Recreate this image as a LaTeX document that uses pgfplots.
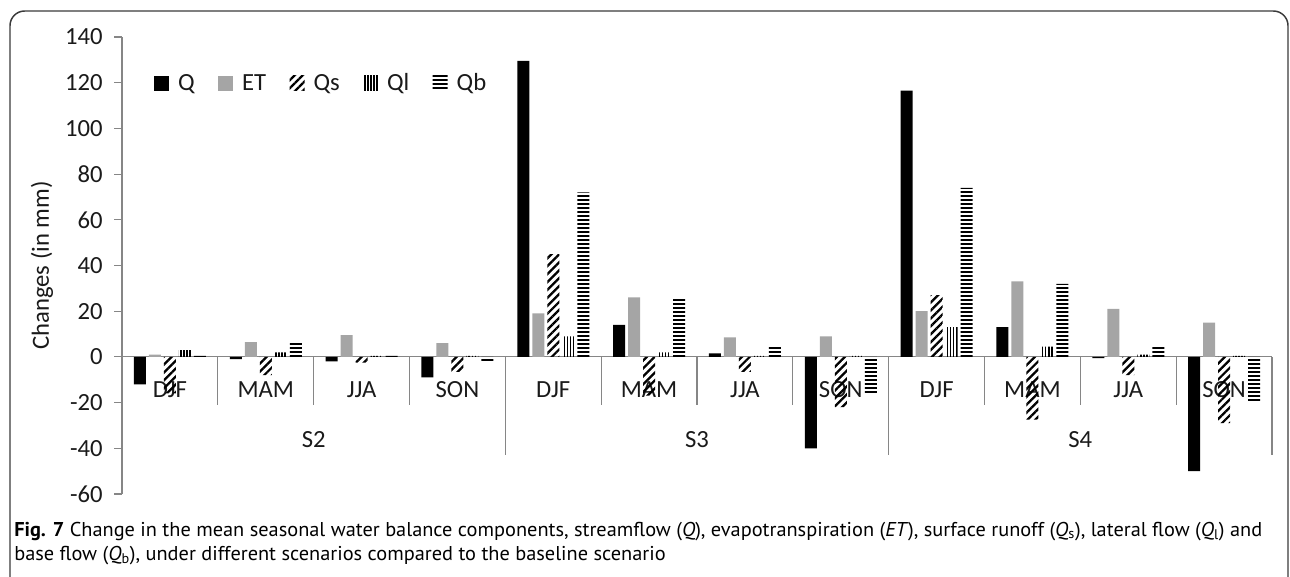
\documentclass[border=0pt]{standalone}
\usepackage{fontspec}
\setmainfont{Carlito}
\newfontfamily\capfont{PT Sans}
\usepackage{graphicx}
\usepackage{pgfplots}
\pgfplotsset{compat=1.18}
\usetikzlibrary{patterns.meta}
\definecolor{axgray}{HTML}{868686}
\definecolor{bargray}{HTML}{A5A5A5}
\definecolor{txt}{HTML}{1A1A1A}
\definecolor{framec}{HTML}{3A3A3A}
\definecolor{capc}{HTML}{2B2B2B}
\newcommand{\lbl}{\fontsize{18.5pt}{22pt}\selectfont}
\newsavebox\capA
\newsavebox\capB
\newdimen\capw

\pgfplotstableread{
x   Q      ET    Qs     Ql    Qb
0   -12    1     -16    3     0.5
1   -1     6.5   -8     2     6
2   -2     9.5   -2.5   0.5   0.4
3   -9     6     -6.5   0.5   -2.5
4   129.5  19    45     9     72
5   14     26    -17    2     26
6   1.5    8.5   -6.5   0.5   4.5
7   -40    9     -22    0.4   -16.5
8   116.5  20    27     13    74
9   13     33    -27.5  4.5   32
10  -0.5   21    -8     1     4.5
11  -50    15    -29    0.5   -19.5
}\datatab

\begin{document}
\sbox\capA{\capfont\fontsize{15pt}{18pt}\selectfont\textbf{Fig. 7} Change in the mean seasonal water balance components, streamflow (\textit{Q}), evapotranspiration (\textit{ET}), surface runoff (\textit{Q}\textsubscript{s}), lateral flow (\textit{Q}\textsubscript{l}) and}%
\sbox\capB{\capfont\fontsize{15pt}{18pt}\selectfont base flow (\textit{Q}\textsubscript{b}), under different scenarios compared to the baseline scenario}%
\capw=\wd\capA
\pgfmathsetmacro\capf{936/\the\capw}%
\begin{tikzpicture}
\useasboundingbox (0,0) rectangle (967.5pt,432pt);
\draw[framec, line width=1.1pt, rounded corners=11pt] (7.5pt,-12pt) rectangle (966pt,423.75pt);
\node[anchor=base west, inner sep=0pt, text=capc] at (10.5pt,30pt) {\scalebox{\capf}[1]{\usebox\capA}};
\node[anchor=base west, inner sep=0pt, text=capc] at (10.5pt,12pt) {\scalebox{\capf}[1]{\usebox\capB}};
\begin{axis}[
  at={(91.5pt,61.5pt)}, anchor=south west,
  scale only axis, width=862.5pt, height=342.75pt,
  xmin=-0.5, xmax=11.5, ymin=-60, ymax=140,
  axis y line*=left, axis x line*=middle,
  xtick=\empty,
  ytick={-60,-40,-20,0,20,40,60,80,100,120,140},
  yticklabels={-60,-40,-20,0,20,40,60,80,100,120,140},
  yticklabel style={font=\lbl, text=txt, xshift=-5pt},
  tick align=outside, major tick length=6pt,
  tick style={axgray, line width=0.8pt},
  axis line style={axgray, line width=0.8pt},
  ylabel={Changes (in mm)},
  ylabel style={at={(axis description cs:-0.0696,0.5)}, anchor=center, font=\lbl, text=txt},
  ybar=2.25pt, bar width=9pt,
  legend columns=5,
  legend style={draw=none, fill=none, at={(axis description cs:0.0278,0.899)}, anchor=west,
    font=\lbl, text=txt, inner sep=0pt, nodes={inner xsep=0pt},
    /tikz/every odd column/.append style={column sep=6.75pt},
    /tikz/every even column/.append style={column sep=17.5pt}},
  legend image code/.code={\draw[#1,draw=none] (0pt,-5.6pt) rectangle (11.25pt,5.6pt);},
  clip=false,
]
\node[font=\lbl, text=txt] at (axis cs:0,-14.4) {DJF};
\node[font=\lbl, text=txt] at (axis cs:1,-14.4) {MAM};
\node[font=\lbl, text=txt] at (axis cs:2,-14.4) {JJA};
\node[font=\lbl, text=txt] at (axis cs:3,-14.4) {SON};
\node[font=\lbl, text=txt] at (axis cs:4,-14.4) {DJF};
\node[font=\lbl, text=txt] at (axis cs:5,-14.4) {MAM};
\node[font=\lbl, text=txt] at (axis cs:6,-14.4) {JJA};
\node[font=\lbl, text=txt] at (axis cs:7,-14.4) {SON};
\node[font=\lbl, text=txt] at (axis cs:8,-14.4) {DJF};
\node[font=\lbl, text=txt] at (axis cs:9,-14.4) {MAM};
\node[font=\lbl, text=txt] at (axis cs:10,-14.4) {JJA};
\node[font=\lbl, text=txt] at (axis cs:11,-14.4) {SON};
\node[font=\lbl, text=txt] at (axis cs:1.5,-36.3) {S2};
\node[font=\lbl, text=txt] at (axis cs:5.5,-36.3) {S3};
\node[font=\lbl, text=txt] at (axis cs:9.5,-36.3) {S4};
\draw[axgray, line width=0.8pt] (axis cs:0.5,0) -- (axis cs:0.5,-21);
\draw[axgray, line width=0.8pt] (axis cs:1.5,0) -- (axis cs:1.5,-21);
\draw[axgray, line width=0.8pt] (axis cs:2.5,0) -- (axis cs:2.5,-21);
\draw[axgray, line width=0.8pt] (axis cs:4.5,0) -- (axis cs:4.5,-21);
\draw[axgray, line width=0.8pt] (axis cs:5.5,0) -- (axis cs:5.5,-21);
\draw[axgray, line width=0.8pt] (axis cs:6.5,0) -- (axis cs:6.5,-21);
\draw[axgray, line width=0.8pt] (axis cs:8.5,0) -- (axis cs:8.5,-21);
\draw[axgray, line width=0.8pt] (axis cs:9.5,0) -- (axis cs:9.5,-21);
\draw[axgray, line width=0.8pt] (axis cs:10.5,0) -- (axis cs:10.5,-21);
\draw[axgray, line width=0.8pt] (axis cs:3.5,0) -- (axis cs:3.5,-43);
\draw[axgray, line width=0.8pt] (axis cs:7.5,0) -- (axis cs:7.5,-43);
\draw[axgray, line width=0.8pt] (axis cs:11.5,0) -- (axis cs:11.5,-43);
\addplot[fill=black, draw=none] table[x=x, y=Q] {\datatab};
\addlegendentry{Q}
\addplot[fill=bargray, draw=none] table[x=x, y=ET] {\datatab};
\addlegendentry{ET}
\addplot[draw=none, pattern={Lines[angle=45,distance=4.2pt,line width=1.7pt]}, pattern color=black] table[x=x, y=Qs] {\datatab};
\addlegendentry{Qs}
\addplot[draw=none, pattern={Lines[angle=90,distance=2.3pt,line width=1.1pt]}, pattern color=black] table[x=x, y=Ql] {\datatab};
\addlegendentry{Ql}
\addplot[draw=none, pattern={Lines[angle=0,distance=3pt,line width=1.5pt]}, pattern color=black] table[x=x, y=Qb] {\datatab};
\addlegendentry{Qb}
\end{axis}
\end{tikzpicture}
\end{document}
